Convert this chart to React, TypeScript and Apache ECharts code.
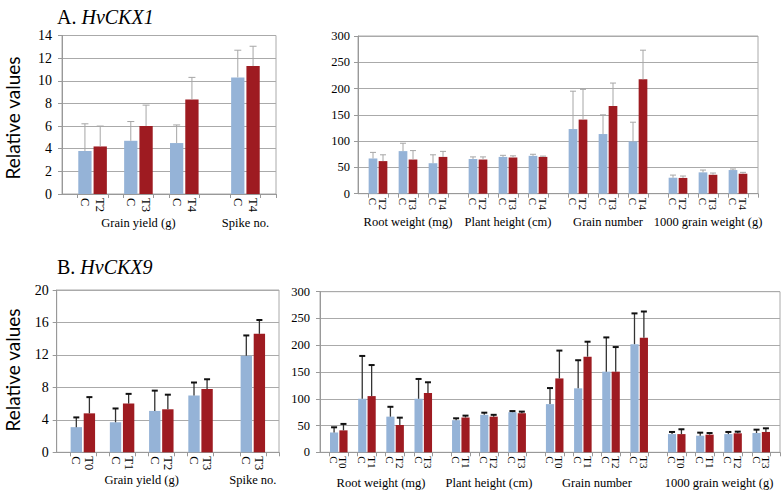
import React, { useEffect, useRef } from "react";
import * as echarts from "echarts";

// ---------- Panel A (HvCKX1) left ----------
const aYieldTreat = ["T2", "T3", "T4"];
const aYieldC = [3.8, 4.7, 4.5];
const aYieldCErr = [2.4, 1.7, 1.6];
const aYieldT = [4.2, 6.0, 8.35];
const aYieldTErr = [1.8, 1.85, 1.95];

const aSpikeTreat = ["T4"];
const aSpikeC = [10.3];
const aSpikeCErr = [2.4];
const aSpikeT = [11.3];
const aSpikeTErr = [1.75];

// ---------- Panel A right ----------
const aRootTreat = ["T2", "T3", "T4"];
const aRootC = [67, 81, 58];
const aRootCErr = [11.6, 15, 16];
const aRootT = [62, 65, 70];
const aRootTErr = [12, 17, 10.5];

const aPlantTreat = ["T2", "T3", "T4"];
const aPlantC = [66, 70, 72];
const aPlantCErr = [4, 3, 3];
const aPlantT = [65, 69, 70];
const aPlantTErr = [5, 3, 1.5];

const aGrainTreat = ["T2", "T3", "T4"];
const aGrainC = [123, 113.5, 99.5];
const aGrainCErr = [72, 36.5, 36.5];
const aGrainT = [141, 167, 217.5];
const aGrainTErr = [57.5, 43.5, 55.5];

const aTgwTreat = ["T2", "T3", "T4"];
const aTgwC = [30.4, 40.6, 45];
const aTgwCErr = [5, 4.4, 2];
const aTgwT = [30, 36, 38];
const aTgwTErr = [3.6, 3.3, 2.6];

// ---------- Panel B (HvCKX9) left ----------
const bYieldTreat = ["T0", "T1", "T2", "T3"];
const bYieldC = [3.1, 3.7, 5.1, 7.0];
const bYieldCErr = [1.2, 1.7, 2.5, 1.6];
const bYieldT = [4.8, 6.0, 5.3, 7.8];
const bYieldTErr = [2.0, 1.2, 1.8, 1.2];

const bSpikeTreat = ["T3"];
const bSpikeC = [11.9];
const bSpikeCErr = [2.5];
const bSpikeT = [14.6];
const bSpikeTErr = [1.7];

// ---------- Panel B right ----------
const bRootTreat = ["T0", "T1", "T2", "T3"];
const bRootC = [37, 100, 66.6, 100];
const bRootCErr = [9.7, 80, 18.4, 37];
const bRootT = [41, 105, 51, 110.8];
const bRootTErr = [12, 58, 13.7, 20];

const bPlantTreat = ["T1", "T2", "T3"];
const bPlantC = [60, 70, 75];
const bPlantCErr = [3.5, 4, 2];
const bPlantT = [65, 66.6, 73];
const bPlantTErr = [3.5, 3.4, 3];

const bGrainTreat = ["T0", "T1", "T2", "T3"];
const bGrainC = [90, 119.5, 150.6, 202];
const bGrainCErr = [30, 52.5, 64, 57.5];
const bGrainT = [138, 178.6, 150.6, 214];
const bGrainTErr = [52, 28, 46, 49];

const bTgwTreat = ["T0", "T1", "T2", "T3"];
const bTgwC = [34, 31, 34, 36];
const bTgwCErr = [4, 5.7, 4, 6.3];
const bTgwT = [34, 33, 35.5, 38];
const bTgwTErr = [9, 3, 3.1, 6.8];

const SERIF = "Liberation Serif";
const SANS = "Lato";
const BLUE = "#95B3D7";
const RED = "#9E1B21";

type Group = {
  name: string;
  treat: string[];
  c: number[];
  cErr: number[];
  t: number[];
  tErr: number[];
};

const panels = [
  {
    groups: [
      { name: "Grain yield (g)", treat: aYieldTreat, c: aYieldC, cErr: aYieldCErr, t: aYieldT, tErr: aYieldTErr },
      { name: "Spike no.", treat: aSpikeTreat, c: aSpikeC, cErr: aSpikeCErr, t: aSpikeT, tErr: aSpikeTErr },
    ],
    grid: { left: 62, top: 35.5, width: 214, height: 158.5 },
    yMax: 14, yInterval: 2, yFont: 14, yMargin: 10, catFont: 12.5, groupMargin: 22,
    err: { stroke: "#a6a6a6", lw: 1, cap: "#a6a6a6", capW: 1, half: 3.5 },
  },
  {
    groups: [
      { name: "Root weight (mg)", treat: aRootTreat, c: aRootC, cErr: aRootCErr, t: aRootT, tErr: aRootTErr },
      { name: "Plant height (cm)", treat: aPlantTreat, c: aPlantC, cErr: aPlantCErr, t: aPlantT, tErr: aPlantTErr },
      { name: "Grain number", treat: aGrainTreat, c: aGrainC, cErr: aGrainCErr, t: aGrainT, tErr: aGrainTErr },
      { name: "1000 grain weight (g)", treat: aTgwTreat, c: aTgwC, cErr: aTgwCErr, t: aTgwT, tErr: aTgwTErr },
    ],
    grid: { left: 358, top: 36, width: 400, height: 157.7 },
    yMax: 300, yInterval: 50, yFont: 12.5, yMargin: 8, catFont: 11, groupMargin: 22,
    err: { stroke: "#a6a6a6", lw: 1, cap: "#a6a6a6", capW: 1, half: 3 },
  },
  {
    groups: [
      { name: "Grain yield (g)", treat: bYieldTreat, c: bYieldC, cErr: bYieldCErr, t: bYieldT, tErr: bYieldTErr },
      { name: "Spike no.", treat: bSpikeTreat, c: bSpikeC, cErr: bSpikeCErr, t: bSpikeT, tErr: bSpikeTErr },
    ],
    grid: { left: 56.7, top: 290, width: 222.3, height: 162.3 },
    yMax: 20, yInterval: 4, yFont: 14, yMargin: 8, catFont: 12.5, groupMargin: 21,
    err: { stroke: "#333333", lw: 1.3, cap: "#111111", capW: 2, half: 3 },
  },
  {
    groups: [
      { name: "Root weight (mg)", treat: bRootTreat, c: bRootC, cErr: bRootCErr, t: bRootT, tErr: bRootTErr },
      { name: "Plant height (cm)", treat: bPlantTreat, c: bPlantC, cErr: bPlantCErr, t: bPlantT, tErr: bPlantTErr },
      { name: "Grain number", treat: bGrainTreat, c: bGrainC, cErr: bGrainCErr, t: bGrainT, tErr: bGrainTErr },
      { name: "1000 grain weight (g)", treat: bTgwTreat, c: bTgwC, cErr: bTgwCErr, t: bTgwT, tErr: bTgwTErr },
    ],
    grid: { left: 320, top: 291.7, width: 460, height: 160.6 },
    yMax: 300, yInterval: 50, yFont: 12.5, yMargin: 10, catFont: 11, groupMargin: 24,
    err: { stroke: "#333333", lw: 1.3, cap: "#111111", capW: 2, half: 3 },
  },
];

function buildSlots(groups: Group[]) {
  const labels: string[] = [""];
  const cData: (number | null)[] = [null];
  const tData: (number | null)[] = [null];
  const errData: any[] = [];
  const centers: { pos: number; name: string }[] = [];
  const push = (l: string, c: number | null, t: number | null) => {
    labels.push(l);
    cData.push(c);
    tData.push(t);
  };
  groups.forEach((g, gi) => {
    if (gi > 0) {
      push("", null, null);
      push("", null, null);
    }
    const start = labels.length;
    g.treat.forEach((tr, i) => {
      if (i > 0) push("", null, null);
      const ci = labels.length;
      push("C", g.c[i], null);
      errData.push([ci, g.c[i], g.cErr[i]]);
      const ti = labels.length;
      push(tr, null, g.t[i]);
      errData.push([ti, g.t[i], g.tErr[i]]);
    });
    const end = labels.length;
    centers.push({ pos: (start + end) / 2, name: g.name });
  });
  push("", null, null);
  return { labels, cData, tData, errData, centers };
}

export default function App() {
  const ref = useRef<HTMLDivElement>(null);
  useEffect(() => {
    if (!ref.current) return;
    const chart = echarts.init(ref.current, undefined, { renderer: "svg" });
    const grids: any[] = [];
    const xAxes: any[] = [];
    const yAxes: any[] = [];
    const series: any[] = [];
    panels.forEach((p, k) => {
      const s = buildSlots(p.groups as Group[]);
      const n = s.labels.length;
      grids.push({ ...p.grid, show: true, borderColor: "#aaaaaa", borderWidth: 1, backgroundColor: "transparent", containLabel: false });
      const labelMap: Record<number, string> = {};
      s.centers.forEach((c) => (labelMap[Math.round(c.pos * 2)] = c.name));
      xAxes.push({
        type: "category",
        gridIndex: k,
        data: s.labels,
        boundaryGap: true,
        axisLine: { show: true, lineStyle: { color: "#999999", width: 1 } },
        axisTick: {
          show: true,
          length: 4,
          lineStyle: { color: "#999999" },
          interval: (i: number) => s.labels[i] === "C" || (i > 0 && s.labels[i - 1] !== "" && s.labels[i - 1] !== "C"),
        },
        axisLabel: { interval: 0, rotate: -90, fontFamily: SERIF, fontSize: p.catFont, color: "#000", margin: 4 },
        splitLine: { show: false },
      });
      xAxes.push({
        type: "value",
        gridIndex: k,
        position: "bottom",
        min: 0,
        max: n,
        interval: 0.5,
        axisLine: { show: false },
        axisTick: { show: false },
        splitLine: { show: false },
        axisLabel: {
          showMinLabel: true,
          showMaxLabel: true,
          fontFamily: SERIF,
          fontSize: 12.5,
          color: "#000",
          margin: p.groupMargin,
          formatter: (v: number) => labelMap[Math.round(v * 2)] || "",
        },
      });
      yAxes.push({
        type: "value",
        gridIndex: k,
        min: 0,
        max: p.yMax,
        interval: p.yInterval,
        axisLine: { show: true, lineStyle: { color: "#999999" } },
        axisTick: { show: true, length: 4, lineStyle: { color: "#999999" } },
        axisLabel: { fontFamily: SERIF, fontSize: p.yFont, color: "#000", margin: p.yMargin },
        splitLine: { show: true, lineStyle: { color: "#aaaaaa", width: 1 } },
      });
      const xi = k * 2;
      series.push({
        type: "bar",
        xAxisIndex: xi,
        yAxisIndex: k,
        data: s.cData,
        barWidth: "87%",
        barGap: "-100%",
        itemStyle: { color: BLUE },
        z: 2,
      });
      series.push({
        type: "bar",
        xAxisIndex: xi,
        yAxisIndex: k,
        data: s.tData,
        barWidth: "87%",
        barGap: "-100%",
        itemStyle: { color: RED },
        z: 2,
      });
      const e = p.err;
      series.push({
        type: "custom",
        xAxisIndex: xi,
        yAxisIndex: k,
        data: s.errData,
        encode: { x: 0, y: 1 },
        z: 5,
        silent: true,
        renderItem: (_params: any, api: any) => {
          const x = api.value(0);
          const v = api.value(1);
          const er = api.value(2);
          const p0 = api.coord([x, v]);
          const p1 = api.coord([x, v + er]);
          return {
            type: "group",
            children: [
              { type: "line", shape: { x1: p0[0], y1: p0[1], x2: p1[0], y2: p1[1] }, style: { stroke: e.stroke, lineWidth: e.lw } },
              { type: "line", shape: { x1: p1[0] - e.half, y1: p1[1], x2: p1[0] + e.half, y2: p1[1] }, style: { stroke: e.cap, lineWidth: e.capW } },
            ],
          };
        },
      });
    });

    const titleRich = {
      a: { fontFamily: SERIF, fontSize: 20, fontWeight: "normal", color: "#000" },
      b: { fontFamily: SERIF, fontSize: 20, fontWeight: "normal", fontStyle: "italic", color: "#000" },
    };
    chart.setOption({
      animation: false,
      backgroundColor: "#ffffff",
      title: [
        { text: "{a|A. }{b|HvCKX1}", left: 52, top: 2, textStyle: { fontWeight: "normal", rich: titleRich } },
        { text: "{a|B. }{b|HvCKX9}", left: 52, top: 252, textStyle: { fontWeight: "normal", rich: titleRich } },
      ],
      graphic: [
        {
          type: "text",
          x: 12,
          y: 118,
          rotation: Math.PI / 2,
          style: { text: "Relative values", fontFamily: SANS, fontSize: 19, fill: "#000", align: "center", verticalAlign: "middle" },
        },
        {
          type: "text",
          x: 12,
          y: 370,
          rotation: Math.PI / 2,
          style: { text: "Relative values", fontFamily: SANS, fontSize: 19, fill: "#000", align: "center", verticalAlign: "middle" },
        },
      ],
      grid: grids,
      xAxis: xAxes,
      yAxis: yAxes,
      series,
    });
    return () => chart.dispose();
  }, []);
  return <div ref={ref} style={{ position: "fixed", left: 0, top: 0, width: 784, height: 493 }} />;
}
